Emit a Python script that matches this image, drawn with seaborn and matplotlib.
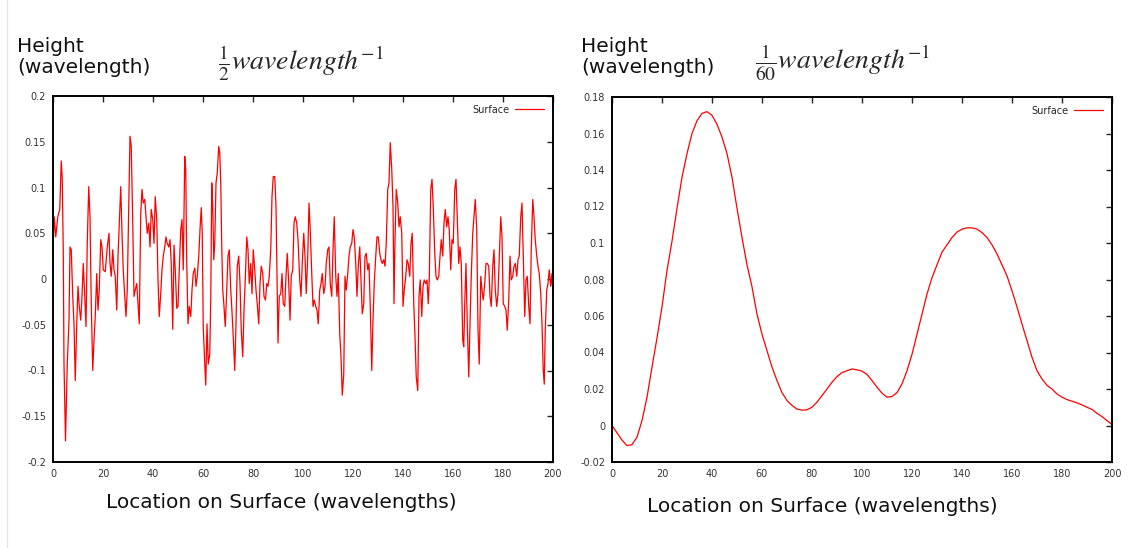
import numpy as np
import pandas as pd
import matplotlib
matplotlib.use("Agg")
import matplotlib.pyplot as plt
import seaborn as sns
from matplotlib.lines import Line2D

# rough surface, 1/2 wavelength^-1
rough_x = [
    0.0, 0.5, 1.1, 1.9, 2.7, 3.3, 3.7, 4.1, 4.4, 5.0, 5.7, 6.4, 6.8, 7.3, 7.9, 8.4, 8.9, 9.5,
    10.0, 10.5, 11.1, 11.6, 12.1, 12.6, 13.2, 13.7, 14.3, 14.8, 15.3, 15.9, 16.4, 16.9, 17.5,
    18.0, 18.5, 19.1, 19.6, 20.1, 20.9, 21.7, 22.4, 22.8, 23.3, 23.9, 24.4, 24.9, 25.5, 26.0,
    26.5, 27.1, 27.6, 28.1, 28.7, 29.2, 29.7, 30.3, 30.8, 31.3, 31.9, 32.4, 32.9, 33.5, 34.0,
    34.5, 35.1, 35.6, 36.1, 36.7, 37.2, 37.7, 38.3, 38.8, 39.3, 39.9, 40.4, 40.9, 41.5, 42.0,
    42.5, 43.1, 43.6, 44.1, 44.7, 45.2, 45.7, 46.3, 46.8, 47.3, 47.9, 48.4, 48.9, 49.5, 50.0,
    50.5, 51.1, 51.6, 52.1, 52.7, 53.1, 53.5, 54.0, 54.5, 55.1, 55.6, 56.1, 56.7, 57.2, 57.7,
    58.3, 58.8, 59.3, 59.7, 60.1, 60.7, 61.1, 61.6, 62.1, 62.7, 63.1, 63.5, 63.9, 64.3, 64.7,
    65.2, 65.7, 66.3, 66.7, 67.1, 67.5, 67.9, 68.4, 68.9, 69.5, 70.0, 70.5, 71.1, 71.6, 72.1,
    72.7, 73.2, 73.7, 74.3, 74.8, 75.3, 75.9, 76.4, 76.9, 77.5, 78.0, 78.5, 79.1, 79.6, 80.1,
    80.7, 81.2, 81.7, 82.3, 82.8, 83.3, 83.9, 84.4, 85.0, 85.5, 86.0, 86.5, 87.1, 87.6, 88.1,
    88.7, 89.2, 89.7, 90.0, 90.5, 91.1, 91.6, 92.1, 92.7, 93.2, 93.7, 94.3, 94.8, 95.3, 95.9,
    96.4, 96.9, 97.5, 98.0, 98.7, 99.2, 99.7, 100.3, 100.8, 101.3, 101.9, 102.4, 102.9, 103.5,
    104.0, 104.5, 105.1, 105.6, 106.1, 106.7, 107.2, 107.7, 108.3, 108.8, 109.3, 109.9, 110.4,
    110.9, 111.5, 112.0, 112.5, 113.1, 113.6, 114.1, 114.7, 115.2, 115.7, 116.3, 116.8, 117.3,
    117.9, 118.4, 118.9, 119.5, 120.0, 120.5, 121.1, 121.6, 122.1, 122.7, 123.2, 123.7, 124.3,
    124.8, 125.3, 125.9, 126.4, 126.9, 127.5, 128.0, 128.5, 129.1, 129.6, 130.1, 130.7, 131.2,
    131.7, 132.3, 132.8, 133.3, 133.9, 134.4, 134.9, 135.5, 136.0, 136.4, 136.8, 137.3, 137.9,
    138.4, 138.9, 139.5, 140.0, 140.5, 141.1, 141.6, 142.1, 142.7, 143.2, 143.7, 144.3, 144.8,
    145.3, 145.9, 146.4, 146.9, 147.5, 148.0, 148.5, 149.1, 149.6, 150.1, 150.5, 151.1, 151.6,
    152.1, 152.7, 153.2, 153.7, 154.3, 154.8, 155.3, 155.9, 156.4, 156.9, 157.5, 158.0, 158.5,
    159.1, 159.6, 160.1, 160.7, 161.2, 161.7, 162.3, 162.8, 163.3, 163.9, 164.3, 164.7, 165.2,
    165.7, 166.3, 166.8, 167.3, 167.9, 168.4, 168.9, 169.5, 170.0, 170.5, 171.1, 171.6, 172.1,
    172.7, 173.2, 173.7, 174.3, 174.8, 175.3, 175.9, 176.4, 176.9, 177.5, 178.0, 178.5, 179.1,
    179.6, 180.1, 180.7, 181.2, 181.7, 182.3, 182.8, 183.3, 183.9, 184.4, 184.9, 185.5, 186.0,
    186.5, 187.1, 187.6, 188.1, 188.7, 189.2, 189.7, 190.3, 190.8, 191.3, 191.9, 192.4, 192.9,
    193.5, 194.0, 194.5, 195.1, 195.6, 196.1, 196.5, 196.9, 197.5, 198.0, 198.5, 199.1, 199.6,
    200.0,
]
rough_h = [
    0.032, 0.068, 0.046, 0.068, 0.076, 0.129, 0.110, 0.032, -0.093, -0.177, -0.093, -0.045,
    0.035, 0.032, -0.019, -0.049, -0.111, -0.049, -0.008, -0.030, -0.045, -0.019, 0.017,
    -0.012, -0.052, 0.039, 0.101, 0.068, -0.027, -0.100, -0.067, -0.041, 0.006, -0.034,
    -0.012, 0.043, 0.035, 0.010, 0.008, 0.035, 0.050, 0.017, 0.003, 0.032, 0.010, 0.003,
    -0.034, 0.025, 0.061, 0.101, 0.050, 0.010, -0.019, -0.041, -0.012, 0.079, 0.156, 0.145,
    0.061, -0.019, -0.012, -0.005, -0.027, -0.049, 0.072, 0.098, 0.083, 0.087, 0.068, 0.050,
    0.061, 0.035, 0.076, 0.065, 0.039, 0.090, 0.065, -0.001, -0.041, -0.016, 0.010, 0.025,
    0.035, 0.046, 0.039, 0.035, 0.043, 0.017, -0.055, 0.037, 0.010, -0.032, -0.030,
    0.010, 0.054, 0.065, 0.010, 0.134, 0.120, 0.017, -0.049, -0.030, -0.041, -0.012, 0.006,
    0.012, -0.008, 0.003, 0.025, 0.054, 0.078, 0.050, -0.052, -0.093, -0.116, -0.049, -0.093,
    -0.082, -0.023, 0.105, 0.079, 0.021, 0.039, 0.105, 0.116, 0.145, 0.138, 0.105, 0.035,
    -0.012, -0.030, -0.052, -0.012, 0.025, 0.032, -0.012, -0.036, -0.063, -0.100, -0.049,
    0.014, 0.025, -0.005, -0.056, -0.085, -0.034, -0.001, 0.046, 0.032, -0.005, 0.017, -0.016,
    0.032, 0.010, -0.012, -0.027, -0.049, -0.005, 0.014, 0.006, -0.019, -0.023, -0.005, -0.008,
    0.003, 0.032, 0.090, 0.112, 0.112, 0.079, -0.019, -0.070, -0.019, -0.016, 0.006, -0.027,
    -0.030, 0.003, 0.028, -0.005, -0.045, 0.003, 0.010, 0.061, 0.068, 0.061, 0.043, -0.001,
    -0.019, 0.017, 0.050, 0.025, -0.016, 0.025, 0.083, 0.054, 0.006, -0.030, -0.023, -0.030,
    -0.034, -0.049, -0.012, -0.005, 0.006, -0.016, -0.008, 0.017, 0.032, 0.035, -0.005, -0.019,
    0.032, 0.068, 0.003, -0.019, 0.006, -0.060, -0.085, -0.127, -0.104, 0.003, -0.012, 0.006,
    0.025, 0.035, 0.039, 0.054, 0.046, 0.017, -0.019, 0.014, 0.035, -0.001, -0.038, -0.027,
    0.025, 0.028, 0.010, 0.017, -0.030, -0.100, -0.045, -0.005, 0.025, 0.046, 0.046, 0.028,
    0.021, 0.017, 0.021, 0.014, 0.039, 0.098, 0.105, 0.149, 0.120, 0.079, -0.027, 0.043,
    0.098, 0.083, 0.057, 0.068, 0.050, -0.030, -0.012, 0.003, 0.021, 0.017, 0.003, 0.039,
    0.050, -0.027, -0.063, -0.107, -0.122, -0.019, -0.001, -0.041, -0.008, -0.001, -0.005,
    -0.001, -0.027, -0.001, 0.098, 0.109, 0.079, 0.028, 0.003, -0.001, 0.003, 0.025, 0.043,
    0.025, 0.061, 0.076, 0.057, 0.068, 0.054, 0.010, 0.043, 0.039, 0.098, 0.109, 0.068, 0.017,
    0.035, 0.017, -0.067, -0.074, -0.027, 0.017, -0.049, -0.107, -0.049, 0.003, 0.050, 0.068,
    0.087, 0.054, -0.056, -0.093, 0.003, -0.012, -0.023, -0.005, 0.017, 0.017, 0.014, -0.019,
    -0.030, 0.014, 0.032, -0.012, -0.030, -0.016, 0.021, 0.068, 0.046, -0.027, -0.030, -0.034,
    -0.056, -0.023, 0.025, -0.001, 0.003, 0.014, 0.017, 0.003, 0.021, 0.025, 0.068, 0.083,
    0.025, -0.041, -0.001, 0.003, -0.030, -0.049, 0.032, 0.087, 0.068, 0.043, 0.025, 0.014,
    0.006, -0.016, -0.049, -0.100, -0.115, -0.056, -0.012, -0.005, 0.010, -0.008, 0.006,
    -0.019,
]

# smooth surface, 1/60 wavelength^-1
smooth_x = list(range(0, 201, 2))
smooth_h = [
    0.0, -0.004, -0.008, -0.011, -0.0105, -0.0064, 0.0027, 0.0155, 0.032, 0.048,
    0.065, 0.085, 0.101, 0.119, 0.136, 0.149, 0.160, 0.167, 0.171, 0.172,
    0.170, 0.165, 0.158, 0.149, 0.136, 0.119, 0.103, 0.088, 0.076, 0.061,
    0.050, 0.041, 0.032, 0.0246, 0.018, 0.0137, 0.011, 0.009, 0.0084, 0.0086,
    0.010, 0.0128, 0.0164, 0.020, 0.0237, 0.0268, 0.029, 0.030, 0.031, 0.0305,
    0.0298, 0.028, 0.0246, 0.021, 0.0177, 0.0155, 0.0159, 0.018, 0.0228, 0.030,
    0.039, 0.050, 0.061, 0.072, 0.081, 0.088, 0.095, 0.099, 0.103, 0.106,
    0.1076, 0.1083, 0.1083, 0.1076, 0.1057, 0.103, 0.099, 0.094, 0.088, 0.082,
    0.0738, 0.065, 0.0556, 0.0465, 0.0374, 0.030, 0.0255, 0.022, 0.020, 0.0173,
    0.0155, 0.0142, 0.0133, 0.0124, 0.0113, 0.010, 0.0088, 0.0067, 0.0049, 0.0027,
    0.0005,
]

left_yticks = [-0.2, -0.15, -0.1, -0.05, 0, 0.05, 0.1, 0.15, 0.2]
right_yticks = [-0.02, 0, 0.02, 0.04, 0.06, 0.08, 0.1, 0.12, 0.14, 0.16, 0.18]
xticks = list(range(0, 201, 20))

sns.set_style("white")
plt.rcParams["font.family"] = ["DejaVu Sans"]
plt.rcParams["mathtext.fontset"] = "stix"

fig = plt.figure(figsize=(11.28, 5.48), dpi=100)
ax1 = fig.add_axes([53 / 1128, 86 / 548, 500 / 1128, 366 / 548])
ax2 = fig.add_axes([612 / 1128, 86 / 548, 500 / 1128, 365 / 548])

panels = [
    (ax1, rough_x, rough_h, left_yticks, (-0.2, 0.2), r"$\frac{1}{2}\mathit{wavelength}^{-1}$"),
    (ax2, smooth_x, smooth_h, right_yticks, (-0.02, 0.18), r"$\frac{1}{60}\mathit{wavelength}^{-1}$"),
]

for ax, xs, hs, yt, ylim, title in panels:
    df = pd.DataFrame({"loc": xs, "height": hs})
    sns.lineplot(data=df, x="loc", y="height", ax=ax, color="#ff0000", lw=0.9,
                 label="Surface", estimator=None)
    ax.set_xlim(0, 200)
    ax.set_ylim(*ylim)
    ax.set_xticks(xticks)
    ax.set_yticks(yt)
    ax.set_yticklabels([f"{v:g}" for v in yt])
    ax.tick_params(direction="in", top=True, right=True, length=4, width=1,
                   labelsize=7, labelcolor="#333333", pad=5)
    for s in ax.spines.values():
        s.set_linewidth(1.4)
        s.set_color("black")
    ax.set_xlabel("")
    ax.set_ylabel("")
    ax.legend(loc="upper right", frameon=False, markerfirst=False, fontsize=7,
              handlelength=3, borderaxespad=0.5, handletextpad=0.6)

# axis captions, placed like the slide text boxes
fig.text(17 / 1128, 1 - 57 / 548, "Height\n(wavelength)", fontsize=14.5, color="#111111",
         va="center", ha="left", linespacing=1.15)
fig.text(218 / 1128, 1 - 63 / 548, panels[0][5], fontsize=20, va="center", ha="left")
fig.text(581 / 1128, 1 - 57 / 548, "Height\n(wavelength)", fontsize=14.5, color="#111111",
         va="center", ha="left", linespacing=1.15)
fig.text(755 / 1128, 1 - 63 / 548, panels[1][5], fontsize=20, va="center", ha="left")

fig.text(281 / 1128, 1 - 503 / 548, "Location on Surface (wavelengths)", fontsize=14.5,
         color="#111111", ha="center", va="center")
fig.text(822 / 1128, 1 - 507 / 548, "Location on Surface (wavelengths)", fontsize=14.5,
         color="#111111", ha="center", va="center")

# faint slide border at the left
fig.add_artist(Line2D([7 / 1128, 7 / 1128], [0, 1], color="#e6e6e6", lw=1))

fig.savefig("out.png", dpi=100)
